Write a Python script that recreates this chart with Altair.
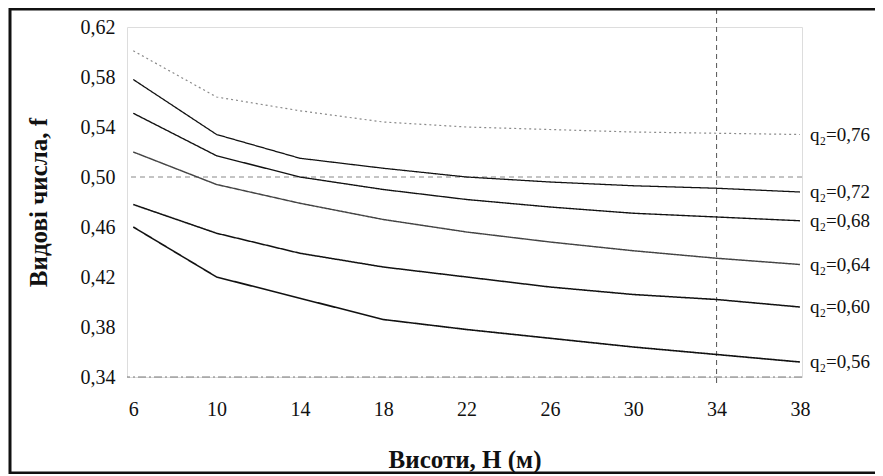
import altair as alt
import pandas as pd

H = [6, 10, 14, 18, 22, 26, 30, 34, 38]
q076 = [0.601, 0.564, 0.553, 0.544, 0.540, 0.538, 0.536, 0.535, 0.534]
q072 = [0.578, 0.534, 0.515, 0.507, 0.500, 0.496, 0.493, 0.491, 0.488]
q068 = [0.551, 0.517, 0.500, 0.490, 0.482, 0.476, 0.471, 0.468, 0.465]
q064 = [0.520, 0.494, 0.479, 0.466, 0.456, 0.448, 0.441, 0.435, 0.430]
q060 = [0.478, 0.455, 0.439, 0.428, 0.420, 0.412, 0.406, 0.402, 0.396]
q056 = [0.460, 0.420, 0.403, 0.386, 0.378, 0.371, 0.364, 0.358, 0.352]

series_names = ["q₂=0,76", "q₂=0,72", "q₂=0,68", "q₂=0,64", "q₂=0,60", "q₂=0,56"]
series_vals = [q076, q072, q068, q064, q060, q056]
y_ticks = [0.34, 0.38, 0.42, 0.46, 0.50, 0.54, 0.58, 0.62]

colors = ["#8a8a8a", "#111111", "#111111", "#444444", "#111111", "#111111"]
dashes = [[2, 3], [1, 0], [1, 0], [1, 0], [1, 0], [1, 0]]
widths = [1.2, 1.6, 2.0, 1.2, 1.6, 1.6]

rows = []
for name, vals in zip(series_names, series_vals):
    for h, v in zip(H, vals):
        rows.append({"H": h, "f": v, "s": name})
df = pd.DataFrame(rows)
lab = pd.DataFrame({"H": [H[-1]] * 6, "f": [v[-1] for v in series_vals], "s": series_names})

FONT = "Liberation Serif"
xs = alt.Scale(domain=[5.7, 38.1], nice=False, zero=False)
ys = alt.Scale(domain=[0.34, 0.62], nice=False, zero=False)

x_enc = alt.X("H:Q", scale=xs, axis=alt.Axis(
    values=H, domain=False, ticks=False, grid=False, labelFont=FONT, labelFontSize=20,
    labelColor="#111", labelPadding=22, title="Висоти, Н (м)", titleFont=FONT,
    titleFontSize=25, titleFontWeight="bold", titleColor="#111", titleY=82,
    titleBaseline="middle"))
y_enc = alt.Y("f:Q", scale=ys, axis=alt.Axis(
    values=y_ticks, domain=False, ticks=False, grid=False, labelFont=FONT, labelFontSize=20,
    labelColor="#111", labelPadding=12, labelExpr="replace(format(datum.value, '.2f'), '.', ',')",
    title="Видові числа, f", titleFont=FONT, titleFontSize=25, titleFontWeight="bold",
    titleColor="#111", titleX=-89, titleY=175, titleAngle=-90, titleAlign="center",
    titleBaseline="middle"))

lines = alt.Chart(df).mark_line().encode(
    x=x_enc, y=y_enc,
    color=alt.Color("s:N", scale=alt.Scale(domain=series_names, range=colors), legend=None),
    strokeDash=alt.StrokeDash("s:N", scale=alt.Scale(domain=series_names, range=dashes), legend=None),
    strokeWidth=alt.StrokeWidth("s:N", scale=alt.Scale(domain=series_names, range=widths), legend=None),
    detail="s:N",
)

ref50 = alt.Chart().mark_rule(color="#888", strokeDash=[5, 4], strokeWidth=1).encode(y=alt.datum(0.50, scale=ys))
ref34 = alt.Chart().mark_rule(color="#777", strokeDash=[8, 3, 2, 3], strokeWidth=1).encode(y=alt.datum(0.34, scale=ys))
vline = alt.Chart().mark_rule(color="#555", strokeDash=[5, 4], strokeWidth=1, clip=False).encode(
    x=alt.datum(34, scale=xs), y=alt.datum(0.3352, scale=ys), y2=alt.datum(0.6336))

labels = alt.Chart(lab).mark_text(align="left", baseline="middle", dx=10, font=FONT,
                                  fontSize=19, color="#111").encode(
    x=alt.X("H:Q", scale=xs), y=alt.Y("f:Q", scale=ys), text="s:N")

frame = alt.Chart().mark_rect(filled=False, stroke="#111", strokeWidth=3, clip=False).encode(
    x=alt.value(-117), x2=alt.value(780), y=alt.value(-18), y2=alt.value(446))

chart = alt.layer(ref50, ref34, vline, lines, labels, frame).properties(
    width=675, height=350,
    autosize=alt.AutoSizeParams(type="none"),
    padding={"left": 119, "top": 19, "right": 73, "bottom": 97},
).configure_view(stroke=None).configure(background="white")

chart.save("out.html", embed_options={"renderer": "svg", "actions": False})
